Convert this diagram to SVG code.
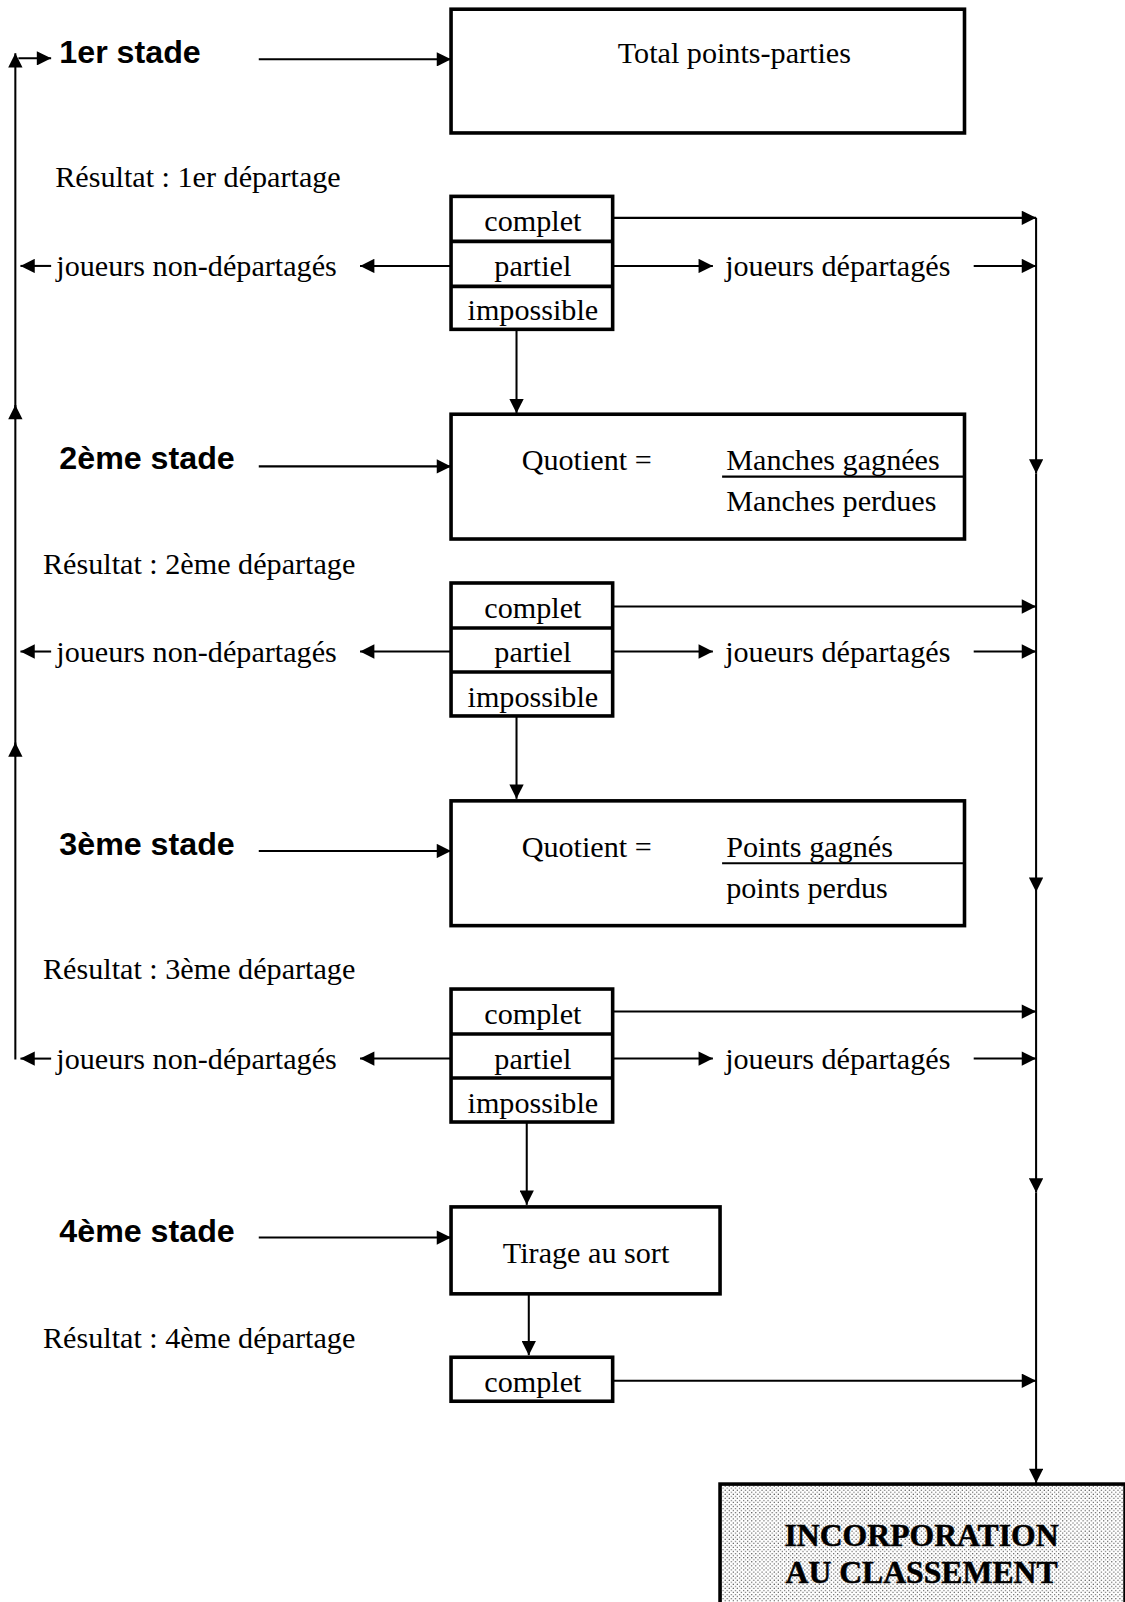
<svg xmlns="http://www.w3.org/2000/svg" width="1125" height="1602" viewBox="0 0 1125 1602">
<style>
.box{fill:#fff;stroke:#000;stroke-width:3.5}
.t{font-family:"Liberation Serif","Times New Roman",serif;font-size:29.5px;fill:#000}
.m{text-anchor:middle}
.s{font-family:"Liberation Sans",Arial,sans-serif;font-size:31.5px;font-weight:bold;fill:#000}
.c{stroke:#000;stroke-width:2;fill:none}
.ca{stroke:#000;stroke-width:2;fill:none;marker-end:url(#ah)}
.fin{font-family:"Liberation Serif","Times New Roman",serif;font-size:31px;font-weight:bold;fill:#000;text-anchor:middle;stroke:#000;stroke-width:0.5}
</style>
<defs>
<marker id="ah" viewBox="0 0 10 10" refX="10" refY="5" markerWidth="15" markerHeight="14" markerUnits="userSpaceOnUse" orient="auto">
<path d="M0,0 L10,5 L0,10 Z" fill="#000"/>
</marker>
<pattern id="dots" width="4" height="4" patternUnits="userSpaceOnUse">
<rect width="4" height="4" fill="#fff"/>
<circle cx="1" cy="1" r="0.6" fill="#333"/>
<circle cx="3" cy="3" r="0.6" fill="#333"/>
</pattern>
</defs>
<g transform="scale(1.0228)">
<g id="connectors">
<line class="ca" x1="253" y1="58" x2="441" y2="58"/>
<line class="ca" x1="253" y1="456" x2="441" y2="456"/>
<line class="ca" x1="253" y1="832" x2="441" y2="832"/>
<line class="ca" x1="253" y1="1210" x2="441" y2="1210"/>
<line class="ca" x1="15" y1="1036" x2="15" y2="726"/>
<line class="ca" x1="15" y1="740" x2="15" y2="396"/>
<line class="ca" x1="15" y1="410" x2="15" y2="52"/>
<line class="ca" x1="18" y1="57" x2="50" y2="57"/>
<line class="ca" x1="441" y1="260" x2="352" y2="260"/>
<line class="ca" x1="50" y1="260" x2="20" y2="260"/>
<line class="ca" x1="441" y1="637" x2="352" y2="637"/>
<line class="ca" x1="50" y1="637" x2="20" y2="637"/>
<line class="ca" x1="441" y1="1035" x2="352" y2="1035"/>
<line class="ca" x1="50" y1="1035" x2="20" y2="1035"/>
<line class="ca" x1="599" y1="213" x2="1013" y2="213"/>
<line class="ca" x1="599" y1="260" x2="697" y2="260"/>
<line class="ca" x1="952" y1="260" x2="1013" y2="260"/>
<line class="ca" x1="599" y1="593" x2="1013" y2="593"/>
<line class="ca" x1="599" y1="637" x2="697" y2="637"/>
<line class="ca" x1="952" y1="637" x2="1013" y2="637"/>
<line class="ca" x1="599" y1="989" x2="1013" y2="989"/>
<line class="ca" x1="599" y1="1035" x2="697" y2="1035"/>
<line class="ca" x1="952" y1="1035" x2="1013" y2="1035"/>
<line class="ca" x1="599" y1="1350" x2="1013" y2="1350"/>
<line class="ca" x1="505" y1="322" x2="505" y2="404"/>
<line class="ca" x1="505" y1="700" x2="505" y2="781"/>
<line class="ca" x1="515" y1="1097" x2="515" y2="1178"/>
<line class="ca" x1="517" y1="1265" x2="517" y2="1325"/>
<line class="ca" x1="1013" y1="213" x2="1013" y2="463"/>
<line class="ca" x1="1013" y1="463" x2="1013" y2="872"/>
<line class="ca" x1="1013" y1="872" x2="1013" y2="1166"/>
<line class="ca" x1="1013" y1="1166" x2="1013" y2="1450"/>
</g>

<g id="labels">
<text class="s" x="58" y="62">1er stade</text>
<text class="s" x="58" y="459">2ème stade</text>
<text class="s" x="58" y="836">3ème stade</text>
<text class="s" x="58" y="1214">4ème stade</text>
<text class="t" x="54" y="183">Résultat : 1er départage</text>
<text class="t" x="42" y="561">Résultat : 2ème départage</text>
<text class="t" x="42" y="957">Résultat : 3ème départage</text>
<text class="t" x="42" y="1318">Résultat : 4ème départage</text>
<text class="t" x="55" y="270">joueurs non-départagés</text>
<text class="t" x="55" y="647">joueurs non-départagés</text>
<text class="t" x="55" y="1045">joueurs non-départagés</text>
<text class="t" x="709" y="270">joueurs départagés</text>
<text class="t" x="709" y="647">joueurs départagés</text>
<text class="t" x="709" y="1045">joueurs départagés</text>
</g>

<g id="stage1">
<rect class="box" x="441" y="9" width="502" height="121"/>
<text class="t m" x="718" y="62">Total points-parties</text>
</g>
<g id="result1">
<rect class="box" x="441" y="192" width="158" height="130"/>
<line class="box" x1="441" y1="236" x2="599" y2="236"/>
<line class="box" x1="441" y1="280" x2="599" y2="280"/>
<text class="t m" x="521" y="226">complet</text>
<text class="t m" x="521" y="270">partiel</text>
<text class="t m" x="521" y="313">impossible</text>
</g>
<g id="stage2">
<rect class="box" x="441" y="405" width="502" height="122"/>
<text class="t" x="510" y="460">Quotient =</text>
<line class="c" x1="706" y1="466" x2="943" y2="466"/>
<text class="t" x="710" y="460">Manches gagnées</text>
<text class="t" x="710" y="500">Manches perdues</text>
</g>
<g id="result2">
<rect class="box" x="441" y="570" width="158" height="130"/>
<line class="box" x1="441" y1="614" x2="599" y2="614"/>
<line class="box" x1="441" y1="657" x2="599" y2="657"/>
<text class="t m" x="521" y="604">complet</text>
<text class="t m" x="521" y="647">partiel</text>
<text class="t m" x="521" y="691">impossible</text>
</g>
<g id="stage3">
<rect class="box" x="441" y="783" width="502" height="122"/>
<text class="t" x="510" y="838">Quotient =</text>
<line class="c" x1="706" y1="844" x2="943" y2="844"/>
<text class="t" x="710" y="838">Points gagnés</text>
<text class="t" x="710" y="878">points perdus</text>
</g>
<g id="result3">
<rect class="box" x="441" y="967" width="158" height="130"/>
<line class="box" x1="441" y1="1011" x2="599" y2="1011"/>
<line class="box" x1="441" y1="1054" x2="599" y2="1054"/>
<text class="t m" x="521" y="1001">complet</text>
<text class="t m" x="521" y="1045">partiel</text>
<text class="t m" x="521" y="1088">impossible</text>
</g>
<g id="stage4">
<rect class="box" x="441" y="1180" width="263" height="85"/>
<text class="t m" x="573" y="1235">Tirage au sort</text>
</g>
<g id="result4">
<rect class="box" x="441" y="1327" width="158" height="43"/>
<text class="t m" x="521" y="1361">complet</text>
</g>
<g id="final">
<rect x="704" y="1451" width="396" height="170" fill="url(#dots)" stroke="#000" stroke-width="3.5"/>
<text class="fin" x="901" y="1512">INCORPORATION</text>
<text class="fin" x="901" y="1548">AU CLASSEMENT</text>
</g>
</g>
</svg>
